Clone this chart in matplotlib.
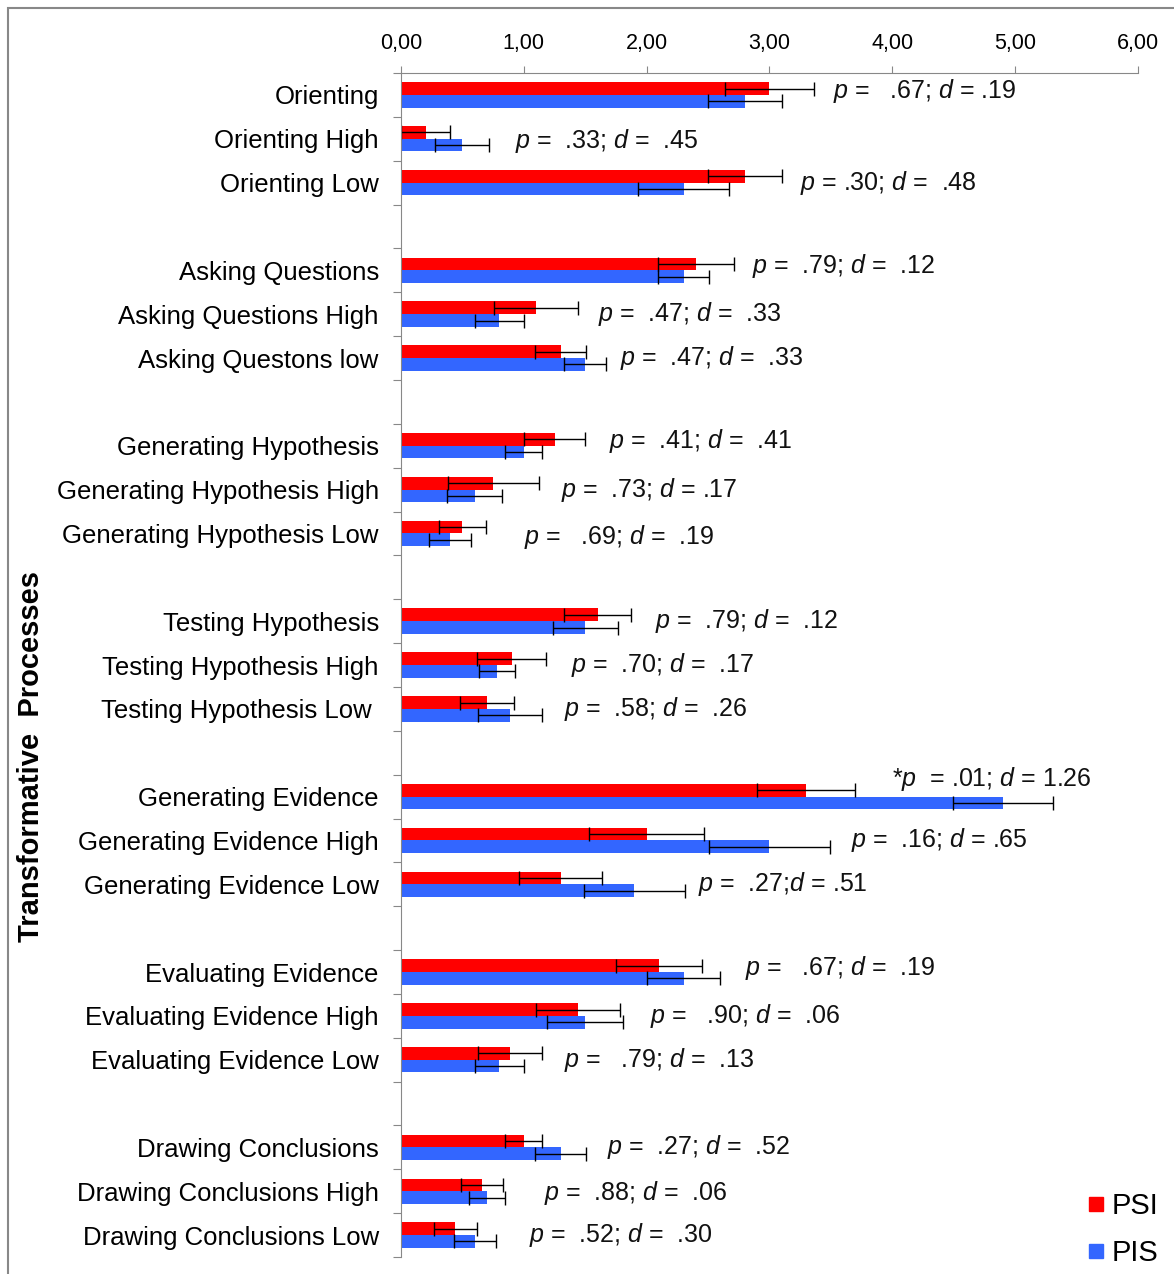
import matplotlib
matplotlib.use('Agg')
import matplotlib.pyplot as plt
import numpy as np
from matplotlib.lines import Line2D
from matplotlib.patches import Rectangle

# categories, grouped in threes (a blank slot sits between groups)
groups = ["Orienting", "Asking Questions", "Generating Hypothesis",
          "Testing Hypothesis", "Generating Evidence", "Evaluating Evidence",
          "Drawing Conclusions"]
labels = ["Orienting", "Orienting High", "Orienting Low",
          "Asking Questions", "Asking Questions High", "Asking Questons low",
          "Generating Hypothesis", "Generating Hypothesis High", "Generating Hypothesis Low",
          "Testing Hypothesis", "Testing Hypothesis High", "Testing Hypothesis Low ",
          "Generating Evidence", "Generating Evidence High", "Generating Evidence Low",
          "Evaluating Evidence", "Evaluating Evidence High", "Evaluating Evidence Low",
          "Drawing Conclusions", "Drawing Conclusions High", "Drawing Conclusions Low"]

psi = [3.00, 0.20, 2.80, 2.40, 1.10, 1.30, 1.25, 0.75, 0.50, 1.60, 0.90, 0.70,
       3.30, 2.00, 1.30, 2.10, 1.44, 0.89, 1.00, 0.66, 0.44]
psi_err = [0.36, 0.20, 0.30, 0.31, 0.34, 0.21, 0.25, 0.37, 0.19, 0.27, 0.28, 0.22,
           0.40, 0.47, 0.34, 0.35, 0.34, 0.26, 0.15, 0.17, 0.175]
pis = [2.80, 0.50, 2.30, 2.30, 0.80, 1.50, 1.00, 0.60, 0.40, 1.50, 0.78, 0.89,
       4.90, 3.00, 1.90, 2.30, 1.50, 0.80, 1.30, 0.70, 0.60]
pis_err = [0.30, 0.22, 0.37, 0.21, 0.20, 0.17, 0.15, 0.225, 0.17, 0.265, 0.145, 0.26,
           0.41, 0.49, 0.41, 0.30, 0.31, 0.20, 0.21, 0.15, 0.17]

notes = [r"$p$ =   .67; $d$ = .19", r"$p$ =  .33; $d$ =  .45", r"$p$ = .30; $d$ =  .48",
         r"$p$ =  .79; $d$ =  .12", r"$p$ =  .47; $d$ =  .33", r"$p$ =  .47; $d$ =  .33",
         r"$p$ =  .41; $d$ =  .41", r"$p$ =  .73; $d$ = .17", r"$p$ =   .69; $d$ =  .19",
         r"$p$ =  .79; $d$ =  .12", r"$p$ =  .70; $d$ =  .17", r"$p$ =  .58; $d$ =  .26",
         r"*$p$  = .01; $d$ = 1.26", r"$p$ =  .16; $d$ = .65", r"$p$ =  .27;$d$ = .51",
         r"$p$ =   .67; $d$ =  .19", r"$p$ =   .90; $d$ =  .06", r"$p$ =   .79; $d$ =  .13",
         r"$p$ =  .27; $d$ =  .52", r"$p$ =  .88; $d$ =  .06", r"$p$ =  .52; $d$ =  .30"]
note_x = [3.52, 0.93, 3.25, 2.86, 1.60, 1.78, 1.69, 1.30, 1.00, 2.07, 1.38, 1.33,
          4.00, 3.66, 2.42, 2.80, 2.03, 1.33, 1.68, 1.16, 1.04]
note_dy = [-0.1, 0.05, 0, -0.1, 0, 0, -0.1, 0, 0.08, 0, 0, 0,
           -0.4, 0, 0, -0.1, 0, 0, 0, 0.05, 0]

plt.rcParams['font.family'] = ['Liberation Sans', 'DejaVu Sans']
plt.rcParams['mathtext.fontset'] = 'custom'
plt.rcParams['mathtext.it'] = 'Liberation Sans:italic'
plt.rcParams['mathtext.rm'] = 'Liberation Sans'

# slot positions: 3 per group plus one blank slot
slots = np.array([4 * g + k for g in range(len(groups)) for k in range(3)]) + 0.5
h = 0.29
red = '#FF0000'
blue = '#3366FF'

fig = plt.figure(figsize=(11.74, 12.74), dpi=100)
ax = fig.add_axes([0.3416, 0.0133, 0.6277, 0.9294])

ekw = dict(ecolor='black', elinewidth=1.0, capsize=5, capthick=1.0)
ax.barh(slots - h / 2, psi, height=h, color=red, xerr=psi_err, error_kw=ekw, label='PSI')
ax.barh(slots + h / 2, pis, height=h, color=blue, xerr=pis_err, error_kw=ekw, label='PIS')

for x, y, dy, t in zip(note_x, slots, note_dy, notes):
    ax.text(x, y + dy, t, fontsize=18, va='center', ha='left', color='#111111')

ax.set_xlim(0, 6)
ax.set_ylim(27, 0)
ax.xaxis.tick_top()
ax.set_xticks(np.arange(0, 7))
ax.set_xticklabels(['%d,00' % v for v in range(7)], fontsize=15.5)
ax.tick_params(axis='x', direction='out', length=5, color='#888888', pad=9)

ax.set_yticks(np.arange(0, 28))
ax.set_yticklabels([])
ax.set_yticks(slots, minor=True)
ax.set_yticklabels(labels, minor=True, fontsize=18.5)
ax.tick_params(axis='y', which='major', direction='out', length=6, color='#888888')
ax.tick_params(axis='y', which='minor', length=0, pad=16)

for s in ['bottom', 'right']:
    ax.spines[s].set_visible(False)
for s in ['top', 'left']:
    ax.spines[s].set_color('#888888')

fig.text(0.026, 0.406, 'Transformative  Processes', rotation=90, fontsize=21,
         fontweight='bold', ha='center', va='center')

handles = [Line2D([], [], marker='s', color=red, linestyle='none', markersize=10),
           Line2D([], [], marker='s', color=blue, linestyle='none', markersize=10)]
fig.legend(handles, ['PSI', 'PIS'], loc='lower right', bbox_to_anchor=(1.009, -0.015),
           frameon=False, fontsize=21, handletextpad=0.15, labelspacing=0.65,
           handlelength=0.8)

# frame: only the top and left edges fall inside the picture
fig.patches.append(Rectangle((0.007, -0.1), 1.2, 1.094, transform=fig.transFigure,
                             fill=False, edgecolor='#888888', linewidth=1.5))

fig.savefig('out.png', dpi=100)
